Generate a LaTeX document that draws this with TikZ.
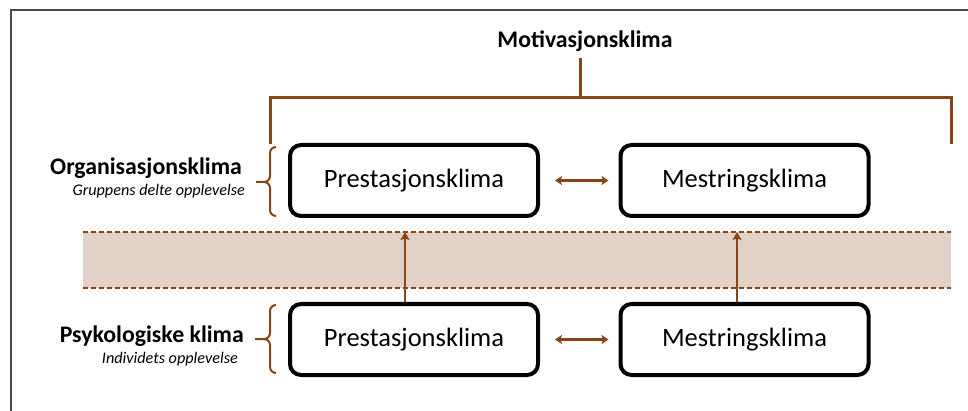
\documentclass[tikz,border=0pt]{standalone}
\usepackage{fontspec}
\setmainfont{Carlito}
\usetikzlibrary{arrows.meta}
\definecolor{brn}{HTML}{8A4416}
\definecolor{bandfill}{HTML}{E2D1C6}
\definecolor{framegray}{HTML}{4A4A4A}
\tikzset{
  klimabox/.style={draw=black, line width=4pt, rounded corners=11pt, minimum width=248pt, minimum height=71pt, inner sep=0pt, font=\fontsize{26.5}{30}\selectfont},
  brnline/.style={draw=brn, line width=3pt},
  bracestyle/.style={draw=brn, line width=2pt},
  arr/.style={draw=brn, line width=2.8pt, -{Stealth[length=8pt,width=9pt,inset=1.5pt]}},
  dblarr/.style={draw=brn, line width=2.8pt, {Stealth[length=7pt,width=9pt,inset=1.5pt]}-{Stealth[length=7pt,width=9pt,inset=1.5pt]}},
  bandline/.style={draw=brn, line width=1.3pt, dash pattern=on 5pt off 3pt},
  mainlabel/.style={font=\bfseries\fontsize{23.8}{28}\selectfont, inner sep=0pt, anchor=base east},
  sublabel/.style={font=\itshape\fontsize{16.2}{19}\selectfont, inner sep=0pt, anchor=base east},
}
\begin{document}
\begin{tikzpicture}[x=1pt,y=1pt]
\useasboundingbox (0,0) rectangle (968,-411);
% frame
\draw[framegray, line width=2pt] (968,-10) -- (11,-10) -- (11,-411);
% band
\fill[bandfill] (83,-232) rectangle (951,-288);
\coordinate (bandTL) at (83,-232);
\coordinate (bandTR) at (951,-232);
\coordinate (bandBL) at (83,-288);
\coordinate (bandBR) at (951,-288);
\draw[bandline] (bandTL) -- (bandTR);
\draw[bandline] (bandBL) -- (bandBR);
% title
\node[font=\bfseries\fontsize{23.8}{28}\selectfont, inner sep=0pt, anchor=base] (title) at (585,-48) {Motivasjonsklima};
% top bracket
\coordinate (stemtop) at (580,-58);
\coordinate (stembot) at (580,-98);
\coordinate (bl) at (270,-98);
\coordinate (br) at (951,-98);
\coordinate (bld) at (270,-143);
\coordinate (brd) at (951,-143);
\draw[brnline] (stemtop) -- (stembot);
\draw[brnline, line cap=rect] (bld) -- (bl) -- (br) -- (brd);
% boxes
\node[klimabox] (P1) at (414,-180.5) {Prestasjonsklima};
\node[klimabox] (M1) at (744.5,-180.5) {Mestringsklima};
\node[klimabox] (P2) at (414,-339.5) {Prestasjonsklima};
\node[klimabox] (M2) at (744.5,-339.5) {Mestringsklima};
% horizontal double arrows
\draw[dblarr, shorten <=15pt, shorten >=10pt] (P1.east) -- (M1.west);
\draw[dblarr, shorten <=15pt, shorten >=10pt] (P2.east) -- (M2.west);
% vertical arrows
\coordinate (a1) at (405,-232);
\coordinate (a2) at (737,-232);
\draw[arr] (P2.north -| a1) -- (a1);
\draw[arr] (M2.north -| a2) -- (a2);
% braces
\draw[bracestyle] (276,-147) to[out=180,in=90] (270,-153) -- (270,-176) to[out=-90,in=0] (264,-182) -- (256,-182);
\draw[bracestyle] (264,-182) to[out=0,in=90] (270,-188) -- (270,-210) to[out=-90,in=180] (276,-216);
\draw[bracestyle] (276,-305) to[out=180,in=90] (270,-311) -- (270,-333) to[out=-90,in=0] (264,-339) -- (255,-339);
\draw[bracestyle] (264,-339) to[out=0,in=90] (270,-345) -- (270,-367) to[out=-90,in=180] (276,-373);
% labels
\node[mainlabel] (org) at (242,-175) {Organisasjonsklima};
\node[sublabel] (orgsub) at (245,-196) {Gruppens delte opplevelse};
\node[mainlabel] (psy) at (244,-342) {Psykologiske klima};
\node[sublabel] (psysub) at (238,-363) {Individets opplevelse};
\end{tikzpicture}
\end{document}
